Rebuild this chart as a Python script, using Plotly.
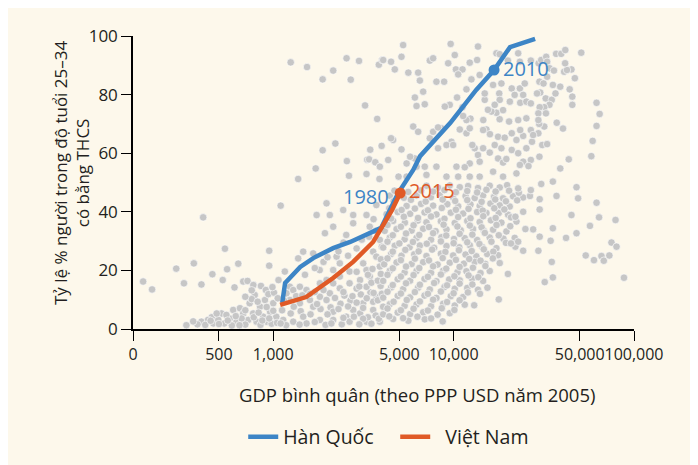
import numpy as np
import plotly.graph_objects as go

# ---------------- data ----------------
# Korea trajectory (GDP per capita PPP 2005 USD, % aged 25-34 with lower-secondary)
korea_gdp = [1122, 1164, 1412, 1668, 2148, 2672, 3963, 4742, 4930, 5970, 6520, 9570, 13340, 16760, 20540, 28300]
korea_pct = [8.9, 15.7, 21.2, 24.2, 27.6, 29.7, 34.5, 44.0, 46.4, 54.3, 59.0, 70.3, 81.6, 88.4, 96.2, 99.0]
korea_labels = ["", "", "", "", "", "", "", "", "1980", "", "", "", "", "2010", "", ""]
korea_marked = [13]          # index of highlighted observation (2010)

vietnam_gdp = [1093, 1524, 2148, 2773, 3580, 4064, 4560, 5056]
vietnam_pct = [8.2, 10.9, 17.4, 22.9, 29.7, 35.5, 40.6, 46.4]
vietnam_labels = ["", "", "", "", "", "", "", "2015"]
vietnam_marked = [7]         # 2015

# country-year observations (grey cloud), grouped by region of the chart
cloud_low = [(190, 16.2), (213, 13.5), (290, 20.6), (320, 15.6), (363, 22.4), (400, 15.2), (409, 38.1),
             (460, 18.7), (525, 16.7), (540, 27.4), (555, 20.4), (610, 14.2), (640, 22.3), (682, 16.2),
             (720, 16.4), (776, 15.0), (855, 14.7), (950, 26.7), (950, 21.6), (1100, 42.1), (1070, 16.7),
             (910, 13.3),
             (400, 2.5), (456, 4.0), (517, 5.3), (575, 3.6), (600, 6.5), (654, 7.1), (682, 5.3), (740, 8.8),
             (790, 11.6), (845, 7.6), (900, 9.9), (960, 5.9), (1000, 8.8), (1040, 4.2), (466, 1.9), (535, 1.9),
             (626, 2.5), (727, 3.1), (808, 2.5), (918, 2.5), (435, 3.1), (496, 3.1), (420, 1.4), (550, 4.8),
             (774, 5.3), (880, 4.2), (486, 5.3), (668, 3.6), (380, 1.6), (590, 1.2), (700, 1.5), (850, 1.4),
             (980, 1.8), (760, 10.2), (940, 11.9), (1010, 12.4)]

cloud_low_band = [(330, 1.3), (360, 2.6), (450, 2.8), (500, 1.7), (560, 2.9), (620, 4.4), (650, 1.3),
                  (700, 6.4), (780, 4.0), (830, 5.6), (870, 2.9), (950, 3.6), (1000, 6.2), (1050, 2.1),
                  (920, 7.5), (820, 9.3), (1060, 10.5), (990, 14.3), (700, 11.0), (760, 13.2)]

cloud_lowmid = [(1160, 19.6), (1237, 14.4), (1375, 24.1), (1466, 26.4), (1666, 25.8), (1740, 38.9),
                (1935, 32.7), (1975, 42.9), (2060, 38.9), (2150, 34.9), (2245, 24.7), (2443, 40.6),
                (2540, 32.1), (2775, 38.9), (2775, 36.1), (3290, 38.9), (3430, 34.9), (3730, 42.3),
                (1810, 20.1), (2150, 20.1), (2340, 22.4), (1975, 16.7), (2650, 19.6), (3153, 22.4),
                (3581, 26.4), (3900, 30.4),
                (1185, 12.2), (1291, 13.3), (1405, 14.4), (1530, 13.3), (1237, 9.9), (1405, 8.8), (1598, 9.9),
                (1815, 11.0), (2060, 12.2), (2340, 13.9), (2650, 15.6), (3030, 16.7), (3430, 17.9), (3900, 21.3),
                (1250, 5.3), (1420, 6.1), (1610, 5.0), (1830, 6.8), (2080, 7.4), (2360, 8.6), (2680, 9.7),
                (3060, 11.8), (3460, 12.5), (3940, 14.7), (1291, 2.5), (1530, 1.9), (1815, 3.1), (2150, 3.1),
                (2540, 4.2), (3030, 5.3), (3581, 6.5), (4068, 7.6), (1815, 15.6), (2150, 15.6), (2340, 17.9),
                (3290, 14.4), (3730, 11.0), (2650, 2.5), (3290, 2.5), (3900, 2.5), (3290, 20.1), (3730, 24.7),
                (4000, 28.1), (3153, 8.8), (3581, 9.3), (2775, 6.5), (2150, 5.9), (1666, 7.6), (1466, 4.2),
                (1136, 3.1), (1975, 9.9), (1120, 6.4), (1340, 11.2), (1700, 12.6), (2480, 11.4), (2900, 13.8),
                (3350, 4.0), (2400, 1.6), (1950, 1.4), (1180, 1.3)]

cloud_lowmid_b = [(1500, 18.5), (1700, 20.8), (1900, 22.9), (2300, 26.5), (2600, 25.0), (2900, 27.5),
                  (3100, 30.5), (3400, 31.5), (3700, 33.5), (2000, 24.5), (2450, 29.5), (3600, 37.5),
                  (1150, 9.6), (1300, 7.6), (1450, 11.5), (1600, 12.0), (1750, 8.5), (1900, 13.3), (2000, 5.0),
                  (2200, 10.6), (2300, 6.8), (2450, 12.6), (2600, 7.7), (2750, 11.2), (2900, 9.0), (3000, 14.5),
                  (3150, 7.2), (3300, 10.5), (3500, 15.8), (3600, 12.3), (3800, 16.5), (3950, 18.8), (3800, 9.8),
                  (3700, 4.6), (3150, 3.5), (2800, 4.2), (2450, 3.8), (2100, 1.9), (1700, 2.4), (1400, 1.5),
                  (1100, 1.9), (3500, 1.8), (3000, 1.6), (3850, 3.5), (4000, 12.0), (3350, 18.5), (2900, 19.5),
                  (3550, 20.5), (3950, 23.8)]

cloud_mid = [(7070, 48.9), (8200, 48.2), (9520, 49.0), (10820, 48.4), (12030, 48.8), (13650, 48.1),
             (15860, 48.9), (18020, 48.3), (19790, 49.1),
             (4430, 45.5), (5300, 44.8), (6230, 45.6), (7480, 45.0), (8380, 45.7), (9940, 44.9), (11650, 45.4),
             (13090, 44.7), (14570, 45.6), (16750, 45.1), (18800, 44.6), (21360, 45.3), (24270, 44.9),
             (5490, 42.0), (6600, 42.7), (7700, 42.1), (9230, 42.6), (10600, 41.9), (12400, 42.5),
             (13950, 42.0), (16000, 42.8), (18020, 42.2), (20470, 41.8),
             (4250, 39.2), (4900, 39.9), (5740, 39.3), (6900, 39.8), (8030, 39.1), (9650, 39.7),
             (11290, 39.4), (13500, 39.9), (15200, 39.6), (17800, 39.6), (20040, 39.0),
             (4620, 36.9), (5370, 36.3), (6330, 37.0), (7070, 36.4), (8500, 36.8), (10150, 36.2),
             (11900, 36.9), (13950, 36.5), (16100, 37.1), (18400, 36.3), (22300, 36.7),
             (4150, 33.5), (4830, 34.1), (5850, 33.6), (6780, 34.2), (7950, 33.4), (9130, 34.0),
             (10950, 33.7), (12820, 34.1), (14700, 33.5), (16550, 33.9), (19620, 33.3),
             (4430, 31.2), (5350, 30.6), (6230, 31.1), (7500, 30.5), (8560, 31.3), (10050, 30.7),
             (11530, 31.0), (13500, 30.4), (15860, 31.2), (18900, 30.8), (21820, 31.1),
             (4070, 27.8), (4720, 28.4), (5700, 27.9), (6500, 28.5), (7800, 27.7), (9130, 28.3),
             (10750, 27.9), (12290, 28.6), (14400, 28.0), (17270, 27.6),
             (4500, 25.6), (5140, 25.0), (6050, 25.5), (7070, 24.9), (8500, 25.7), (9940, 25.1),
             (11650, 25.4), (13370, 24.8), (15350, 25.6), (17640, 25.2),
             (4120, 22.1), (4830, 22.7), (5850, 22.2), (6780, 22.8), (8150, 22.0), (9520, 22.6),
             (11400, 22.3), (13090, 22.9), (15000, 22.2), (18020, 22.5),
             (4430, 19.9), (5350, 19.3), (6230, 19.8), (7500, 19.2), (8750, 19.9), (10500, 19.4),
             (11780, 19.7), (14100, 19.1), (15860, 19.8),
             (4070, 16.4), (4900, 17.0), (5740, 16.5), (6900, 17.1), (8030, 16.3), (9450, 16.9),
             (10820, 16.6), (12650, 17.2), (14570, 16.4),
             (4500, 14.2), (5250, 13.6), (6350, 14.1), (7380, 13.5), (8900, 14.3), (10150, 13.7),
             (11900, 14.0), (13650, 13.4), (15400, 14.1),
             (4070, 10.7), (4900, 11.3), (5740, 10.8), (6900, 11.4), (8030, 10.6), (9650, 11.2), (11290, 10.9),
             (4430, 8.5), (5350, 7.9), (6230, 8.4), (7500, 7.8), (8750, 8.6), (10150, 8.0), (11530, 8.3),
             (4070, 5.0), (4900, 5.6), (5740, 5.1), (6780, 5.7), (8150, 4.9), (9520, 5.4),
             (4620, 3.4), (5610, 2.8), (6920, 3.3)]

cloud_mid_b = [(4700, 47.2), (5600, 46.8), (6600, 47.3), (7700, 46.9), (8900, 47.4), (10300, 46.7),
               (11900, 47.1), (13500, 46.6), (15200, 47.5), (17100, 46.9), (20300, 47.2), (23000, 46.5),
               (4650, 43.6), (5800, 44.1), (7000, 43.5), (8700, 44.2), (10200, 43.7), (11900, 44.0),
               (14300, 43.4), (17000, 44.2), (19500, 43.6), (22500, 43.9),
               (4400, 41.2), (5150, 40.6), (6100, 41.1), (7200, 40.5), (8600, 41.3), (10300, 40.7),
               (12100, 41.0), (14500, 40.4), (16800, 41.2), (19100, 40.8),
               (4500, 37.7), (5300, 38.3), (6350, 37.9), (7500, 38.4), (8900, 37.6), (10600, 38.2),
               (12400, 37.8), (14600, 38.5), (17100, 37.9), (20800, 38.1),
               (4300, 35.5), (5100, 34.9), (6000, 35.4), (7300, 34.8), (8800, 35.6), (10500, 35.0),
               (12300, 35.3), (14300, 34.7), (17300, 35.5), (20600, 35.1),
               (4600, 32.0), (5450, 32.6), (6450, 32.1), (7700, 32.7), (9100, 31.9), (10800, 32.5),
               (12700, 32.2), (14900, 32.8), (17800, 32.0),
               (4300, 29.8), (5000, 29.2), (5950, 29.7), (7100, 29.1), (8500, 29.9), (10000, 29.3),
               (11900, 29.6), (13900, 29.0), (16200, 29.8), (19500, 29.4),
               (4600, 26.4), (5400, 27.0), (6400, 26.5), (7600, 27.1), (9000, 26.3), (10700, 26.9),
               (12600, 26.6), (14700, 27.2), (16600, 26.4),
               (4300, 24.1), (5100, 23.5), (6100, 24.0), (7300, 23.4), (8700, 24.2), (10300, 23.6),
               (12200, 23.9), (14100, 23.3), (16500, 24.1),
               (4600, 20.7), (5450, 21.3), (6450, 20.8), (7700, 21.4), (9100, 20.6), (10800, 21.2),
               (12800, 20.9), (15000, 21.5),
               (4300, 18.5), (5100, 17.9), (6000, 18.4), (7200, 17.8), (8500, 18.6), (10100, 18.0),
               (12100, 18.3), (13700, 17.7),
               (4600, 15.0), (5450, 15.6), (6500, 15.1), (7800, 15.7), (9200, 14.9), (10800, 15.5), (12700, 15.2),
               (4300, 12.7), (5100, 12.1), (6100, 12.6), (7200, 12.0), (8500, 12.8), (10000, 12.2),
               (12000, 12.5), (14000, 12.0),
               (4650, 9.3), (5500, 9.9), (6500, 9.4), (7700, 10.0), (9200, 9.2), (10800, 9.8),
               (4300, 7.0), (5100, 6.4), (6000, 6.9), (7200, 6.3), (8600, 7.1), (10100, 6.5),
               (4400, 4.3), (5250, 3.7), (6300, 4.2), (7500, 3.6), (8700, 2.6)]

cloud_high_low = [(48000, 48.4), (49000, 44.6), (62000, 43.1), (64000, 38.1), (79000, 37.2), (45000, 38.9),
                  (57000, 35.2), (48000, 32.7), (42000, 31.1), (75000, 29.5), (80000, 28.1), (54000, 25.1),
                  (60000, 23.5), (66000, 24.9), (68000, 23.3), (73000, 25.1), (88000, 17.5), (35500, 17.6),
                  (32000, 16.0), (35000, 22.9), (34500, 30.1), (30000, 31.5), (29500, 26.7), (20000, 18.8),
                  (17800, 10.1), (13000, 8.1), (35500, 34.4), (30000, 40.8), (37200, 45.4), (30600, 49.5),
                  (35500, 50.3), (27600, 34.0), (25000, 34.1), (24300, 26.7), (22000, 28.1), (22800, 29.8),
                  (20800, 29.2), (22000, 38.3), (24300, 40.0), (26500, 45.4), (26800, 47.4), (30000, 44.3),
                  (22800, 48.0)]

cloud_upper_left = [(1250, 91.0), (1540, 89.4), (2150, 88.2), (1880, 85.2), (2550, 92.4), (2690, 85.1),
                    (2990, 91.5), (3850, 90.2), (4020, 91.8), (3230, 76.3), (3770, 71.7), (1880, 61.0),
                    (2210, 63.3), (3450, 61.2), (3990, 62.5), (1720, 54.8), (2560, 57.3), (3320, 57.8),
                    (3400, 57.9), (3680, 56.9), (3900, 55.4), (2630, 52.3), (3290, 52.9), (1375, 51.2),
                    (3880, 51.2)]

cloud_upper_right = [(5250, 96.9), (9630, 97.3), (13650, 96.4), (4500, 91.2), (5140, 92.9), (4070, 91.8),
                     (4720, 88.6), (5610, 87.5), (6360, 87.5), (7380, 91.6), (7700, 92.4), (9330, 90.7),
                     (10150, 93.5), (10300, 88.6), (11200, 88.6), (12290, 90.9), (13500, 91.8), (13950, 86.7),
                     (12550, 85.2), (11780, 81.8), (10600, 86.9), (8860, 84.4), (8030, 84.4), (6780, 81.0),
                     (6500, 84.8), (6100, 79.0), (6230, 76.1), (6920, 76.7), (9520, 76.5), (10450, 79.0),
                     (11200, 75.7), (12400, 71.8), (14880, 78.2), (14880, 80.4), (16550, 83.3), (18400, 83.8),
                     (21000, 82.1), (23300, 82.1), (24800, 83.8), (24300, 79.9), (21800, 79.9), (20500, 77.6),
                     (23400, 77.2), (25300, 77.6), (17900, 80.4), (17270, 94.1), (18000, 93.8), (22800, 94.1),
                     (20000, 91.6), (23300, 91.2), (26800, 91.6), (29600, 90.7), (30600, 91.8), (32600, 92.9),
                     (37000, 93.9), (39500, 93.9), (41600, 95.2), (51000, 94.3), (33000, 91.2), (34000, 89.0),
                     (36000, 88.2), (41000, 87.8), (45000, 88.6), (47000, 85.6), (33000, 86.1), (29900, 84.4),
                     (31500, 83.8), (35500, 83.3), (39000, 82.7), (44000, 81.8), (30200, 80.7), (32400, 78.7),
                     (35000, 78.2), (34000, 76.5), (31800, 75.7), (30000, 75.7), (29500, 73.6), (32500, 73.6),
                     (45500, 79.3), (45500, 76.5), (62000, 77.2), (64500, 73.4), (62000, 69.3), (59000, 64.2),
                     (58000, 59.0), (43500, 57.9), (39000, 54.8), (40400, 68.4), (37300, 70.4), (31800, 69.1),
                     (29800, 70.0), (29500, 66.8), (26800, 67.9), (31000, 62.8), (33000, 63.1), (29900, 58.8),
                     (26800, 57.7), (25300, 61.7), (27200, 63.9), (27600, 66.2), (24300, 65.9), (22300, 64.5),
                     (21000, 66.8), (23400, 67.9), (20300, 70.8), (22800, 71.3), (25300, 71.9), (29500, 71.3),
                     (18000, 71.6), (17270, 73.8), (18800, 74.7), (16200, 74.2), (15200, 68.1), (14600, 71.3),
                     (15900, 66.5), (17640, 65.6), (19200, 65.3), (16900, 62.8), (18400, 61.7), (21000, 61.1),
                     (22800, 60.0), (24300, 57.1), (23300, 56.0), (26000, 55.6), (22300, 53.1), (17640, 58.2),
                     (18800, 56.8), (19600, 58.0), (15860, 60.2), (14570, 61.7), (13090, 61.7), (13650, 59.4),
                     (12700, 62.8), (13950, 57.1), (12290, 56.5), (11530, 55.2), (10370, 55.4), (9730, 63.9),
                     (9130, 62.8), (9940, 62.8), (11780, 66.8), (12290, 68.5), (10820, 68.1), (11780, 71.3),
                     (14570, 67.9), (15500, 74.8), (6920, 55.4), (8030, 55.4), (9130, 52.0), (10600, 52.0),
                     (12290, 52.0), (13950, 52.0), (16550, 53.7), (18800, 52.0), (7070, 52.6), (6230, 55.4),
                     (6100, 58.2), (5490, 56.5), (5140, 61.3), (4620, 64.5), (4500, 65.1), (5740, 58.8),
                     (4340, 57.7), (4950, 52.0), (5490, 52.0), (5970, 69.1), (6360, 67.3), (7380, 65.1),
                     (7700, 67.3), (8560, 68.5), (8940, 75.9), (8200, 68.8), (8200, 61.7), (11290, 72.7),
                     (18020, 78.2), (16900, 76.5), (26800, 77.0), (29000, 80.4), (36700, 80.4), (42500, 88.4),
                     (41500, 90.7)]

x_tick_vals = [167, 500, 1000, 5000, 10000, 50000, 100000]
x_tick_text = ["0", "500", "1,000", "5,000", "10,000", "50,000", "100,000"]
y_tick_vals = [0, 20, 40, 60, 80, 100]

series_names = ["Hàn Quốc", "Việt Nam"]
x_title = "GDP bình quân (theo PPP USD năm 2005)"
y_title = "Tỷ lệ % người trong độ tuổi 25–34<br>có bằng THCS"

# ---------------- styles ----------------
BG = "#FDF8EB"
TXT = "#231F20"
BLUE = "#3D85C6"
ORANGE = "#E05A26"
GREY = "#C6C6C6"
FONT = "Open Sans"
NBSP = "\u00a0"

cloud = (cloud_low + cloud_low_band + cloud_lowmid + cloud_lowmid_b + cloud_mid + cloud_mid_b
         + cloud_high_low + cloud_upper_left + cloud_upper_right)
cloud_x = [p[0] for p in cloud]
cloud_y = [p[1] for p in cloud]

fig = go.Figure()
fig.add_trace(go.Scatter(x=cloud_x, y=cloud_y, mode="markers", showlegend=False, hoverinfo="skip",
                         marker=dict(size=7.5, color=GREY, line=dict(color="white", width=0.6)),
                         cliponaxis=False))
fig.add_trace(go.Scatter(x=korea_gdp, y=korea_pct, mode="lines", name=series_names[0],
                         line=dict(color=BLUE, width=4.5)))
fig.add_trace(go.Scatter(x=vietnam_gdp, y=vietnam_pct, mode="lines", name=NBSP * 2 + series_names[1],
                         line=dict(color=ORANGE, width=4.5)))
fig.add_trace(go.Scatter(x=[korea_gdp[i] for i in korea_marked], y=[korea_pct[i] for i in korea_marked],
                         mode="markers", showlegend=False, marker=dict(size=11, color=BLUE)))
fig.add_trace(go.Scatter(x=[vietnam_gdp[i] for i in vietnam_marked], y=[vietnam_pct[i] for i in vietnam_marked],
                         mode="markers", showlegend=False, marker=dict(size=11, color=ORANGE)))

LABEL_SIZE = 20
ann = []
for gx, gy, lab in zip(korea_gdp, korea_pct, korea_labels):
    if lab == "1980":
        ann.append(dict(x=np.log10(gx), y=gy, text=lab, showarrow=False, xanchor="right", yanchor="middle",
                        xshift=-7, yshift=-3, font=dict(color=BLUE, size=LABEL_SIZE, family=FONT)))
    elif lab:
        ann.append(dict(x=np.log10(gx), y=gy, text=lab, showarrow=False, xanchor="left", yanchor="middle",
                        xshift=7, yshift=1, font=dict(color=BLUE, size=LABEL_SIZE, family=FONT)))
for gx, gy, lab in zip(vietnam_gdp, vietnam_pct, vietnam_labels):
    if lab:
        ann.append(dict(x=np.log10(gx), y=gy, text=lab, showarrow=False, xanchor="left", yanchor="middle",
                        xshift=7, yshift=3, font=dict(color=ORANGE, size=LABEL_SIZE, family=FONT)))
ann.append(dict(xref="paper", yref="paper", x=0.567, y=-0.225, text=x_title, showarrow=False,
                xanchor="center", yanchor="middle", font=dict(size=18.5, color=TXT, family=FONT)))
ann.append(dict(xref="paper", yref="paper", x=-0.124, y=0.532, text=y_title, showarrow=False, textangle=-90,
                xanchor="center", yanchor="middle", font=dict(size=17, color=TXT, family=FONT)))

# the page adds an 8px body margin, so the figure is sized to fit the 698x465 window
fig.update_layout(
    width=690, height=457,
    margin=dict(l=125, r=64, t=28, b=136, autoexpand=False),
    paper_bgcolor=BG, plot_bgcolor=BG,
    font=dict(family=FONT, size=17, color=TXT),
    annotations=ann,
    legend=dict(orientation="h", x=0.22, xanchor="left", y=-0.369, yanchor="middle",
                entrywidth=107, entrywidthmode="pixels",
                font=dict(size=19.5, color=TXT, family=FONT), bgcolor="rgba(0,0,0,0)"),
    xaxis=dict(type="log", range=[np.log10(x_tick_vals[0]), np.log10(x_tick_vals[-1])],
               tickvals=x_tick_vals, ticktext=x_tick_text, tickangle=0, ticks="outside", ticklen=10,
               tickcolor="black", tickwidth=1.2, showline=True, linecolor="black", linewidth=1.5,
               showgrid=False, zeroline=False, automargin=False, tickfont=dict(size=16, color=TXT)),
    yaxis=dict(range=[0, 100], tickvals=y_tick_vals, ticks="outside", ticklen=10, tickcolor="black",
               tickwidth=1.2, showline=True, linecolor="black", linewidth=1.5, showgrid=False,
               zeroline=False, automargin=False, tickfont=dict(size=17, color=TXT)),
)

fig.write_html("out.html")
